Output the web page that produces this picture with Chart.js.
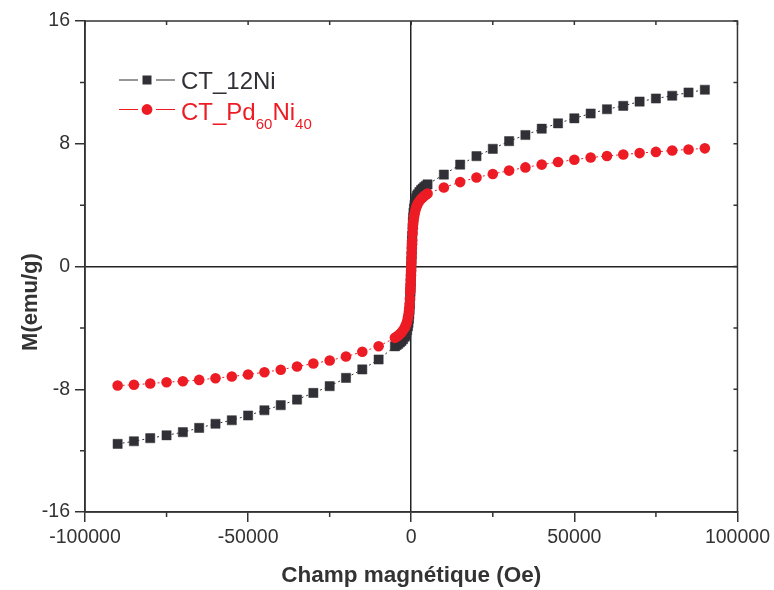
<!DOCTYPE html>
<html>
<head>
<meta charset="utf-8">
<script src="https://cdn.jsdelivr.net/npm/chart.js@4.4.1/dist/chart.umd.min.js"></script>
<style>
  html, body { margin: 0; padding: 0; background: #fff; }
  #wrap { width: 774px; height: 590px; }
</style>
</head>
<body>
<div id="wrap"><canvas id="chart" width="774" height="590"></canvas></div>
<script>
// applied field (Oe), shared by both samples
const fieldOe = [
  -90000, -85000, -80000, -75000, -70000, -65000, -60000, -55000, -50000,
  -45000, -40000, -35000, -30000, -25000, -20000, -15000, -10000,
  -5000, -4500, -4000, -3500, -3000, -2500, -2000, -1750, -1500, -1250,
  -1000, -850, -700, -600, -500, -400, -300, -250, -200, -150, -100, -50,
  0, 50, 100, 150, 200, 250, 300, 400, 500, 600, 700, 850, 1000,
  1250, 1500, 1750, 2000, 2500, 3000, 3500, 4000, 4500, 5000,
  10000, 15000, 20000, 25000, 30000, 35000, 40000, 45000, 50000,
  55000, 60000, 65000, 70000, 75000, 80000, 85000, 90000
];

// magnetisation (emu/g)
const mCT12Ni = [
  -11.56, -11.39, -11.19, -11.0, -10.8, -10.52, -10.25, -10.02, -9.71,
  -9.37, -9.04, -8.67, -8.24, -7.8, -7.26, -6.71, -6.06,
  -5.2, -5.12, -5.04, -4.95, -4.85, -4.73, -4.58, -4.48, -4.35, -4.15,
  -3.9, -3.68, -3.4, -3.12, -2.82, -2.45, -1.95, -1.65, -1.35, -1.02, -0.68, -0.34,
  0, 0.35, 0.7, 1.05, 1.4, 1.7, 2.0, 2.5, 2.9, 3.2, 3.5, 3.78, 4.0,
  4.25, 4.45, 4.6, 4.7, 4.85, 4.98, 5.08, 5.17, 5.26, 5.35,
  5.99, 6.64, 7.19, 7.67, 8.17, 8.57, 8.98, 9.33, 9.66,
  9.97, 10.25, 10.47, 10.75, 10.95, 11.13, 11.34, 11.52
];

const mCTPdNi = [
  -7.76, -7.71, -7.63, -7.54, -7.48, -7.39, -7.28, -7.17, -7.04,
  -6.89, -6.73, -6.52, -6.32, -6.13, -5.87, -5.56, -5.2,
  -4.65, -4.58, -4.5, -4.41, -4.3, -4.16, -4.0, -3.88, -3.75, -3.56,
  -3.32, -3.14, -2.93, -2.72, -2.45, -2.1, -1.66, -1.42, -1.17, -0.88, -0.59, -0.3,
  0, 0.3, 0.6, 0.9, 1.2, 1.45, 1.7, 2.15, 2.5, 2.78, 3.0, 3.22, 3.4,
  3.65, 3.85, 3.98, 4.1, 4.25, 4.4, 4.5, 4.6, 4.68, 4.75,
  5.15, 5.5, 5.8, 6.03, 6.25, 6.46, 6.64, 6.81, 6.96,
  7.1, 7.2, 7.3, 7.39, 7.47, 7.56, 7.63, 7.7
];

const xTickLabels = [-100000, -50000, 0, 50000, 100000];
const yTickLabels = [-16, -8, 0, 8, 16];
const xMinor = [-75000, -25000, 25000, 75000];
const yMinor = [-12, -4, 4, 12];

const BLACK = '#303036';
const RED = '#ed1c24';
const AXIS = '#333';
const FONT = '"Liberation Sans", Arial, Helvetica, sans-serif';

const toPoints = ys => fieldOe.map((x, i) => ({ x: x, y: ys[i] }));

// frame, small ticks, axis titles and the legend (with subscripts)
const decor = {
  id: 'decor',
  afterDraw(chart) {
    const ctx = chart.ctx;
    const a = chart.chartArea;
    const xs = chart.scales.x, ys = chart.scales.y;
    ctx.save();
    ctx.strokeStyle = AXIS;
    ctx.lineWidth = 1.5;
    ctx.strokeRect(a.left, a.top, a.right - a.left, a.bottom - a.top);

    ctx.beginPath();
    xMinor.forEach(v => {
      const px = xs.getPixelForValue(v);
      ctx.moveTo(px, a.bottom); ctx.lineTo(px, a.bottom + 5);
    });
    yMinor.forEach(v => {
      const py = ys.getPixelForValue(v);
      ctx.moveTo(a.left, py); ctx.lineTo(a.left - 5, py);
    });
    // inward ticks on the mirrored axes
    xMinor.concat(xTickLabels).forEach(v => {
      const px = xs.getPixelForValue(v);
      ctx.moveTo(px, a.top); ctx.lineTo(px, a.top + 4);
    });
    yMinor.concat(yTickLabels).forEach(v => {
      const py = ys.getPixelForValue(v);
      ctx.moveTo(a.right, py); ctx.lineTo(a.right - 4, py);
    });
    ctx.stroke();

    // axis titles
    ctx.fillStyle = AXIS;
    ctx.font = 'bold 22.5px ' + FONT;
    ctx.textAlign = 'center';
    ctx.textBaseline = 'alphabetic';
    ctx.fillText('Champ magnétique (Oe)', (a.left + a.right) / 2, 582);
    ctx.save();
    ctx.translate(37, 302);
    ctx.rotate(-Math.PI / 2);
    ctx.font = 'bold 22px ' + FONT;
    ctx.fillText('M(emu/g)', 0, 0);
    ctx.restore();

    // legend
    ctx.textAlign = 'left';
    const rows = [
      { y: 80, base: 88.5, color: BLACK, shape: 'rect',
        parts: [['CT_12Ni', false]] },
      { y: 109.5, base: 119.5, color: RED, shape: 'circle',
        parts: [['CT_Pd', false], ['60', true], ['Ni', false], ['40', true]] }
    ];
    rows.forEach(r => {
      ctx.strokeStyle = r.color;
      ctx.fillStyle = r.color;
      ctx.lineWidth = 1;
      ctx.beginPath();
      ctx.moveTo(119, r.y); ctx.lineTo(138, r.y);
      ctx.moveTo(156, r.y); ctx.lineTo(175, r.y);
      ctx.stroke();
      ctx.beginPath();
      if (r.shape === 'rect') ctx.rect(142.5, r.y - 4.5, 9, 9);
      else ctx.arc(147, r.y, 5.4, 0, Math.PI * 2);
      ctx.fill();
      let tx = 181;
      r.parts.forEach(p => {
        ctx.font = (p[1] ? '15px ' : '24px ') + FONT;
        ctx.fillText(p[0], tx, p[1] ? r.base + 9 : r.base);
        tx += ctx.measureText(p[0]).width;
      });
    });
    ctx.restore();
  }
};

new Chart(document.getElementById('chart'), {
  type: 'scatter',
  data: {
    datasets: [
      {
        label: 'CT_12Ni',
        data: toPoints(mCT12Ni),
        showLine: true,
        order: 2,
        borderColor: BLACK,
        borderWidth: 1,
        borderDash: [2, 3],
        pointStyle: 'rect',
        pointRadius: 6.5,
        pointBackgroundColor: BLACK,
        pointBorderColor: BLACK,
        pointBorderWidth: 0.5
      },
      {
        label: 'CT_Pd60Ni40',
        data: toPoints(mCTPdNi),
        showLine: true,
        order: 1,
        borderColor: RED,
        borderWidth: 1,
        borderDash: [2, 3],
        pointStyle: 'circle',
        pointRadius: 5.3,
        pointBackgroundColor: RED,
        pointBorderColor: RED,
        pointBorderWidth: 0
      }
    ]
  },
  options: {
    responsive: false,
    animation: false,
    devicePixelRatio: 1,
    layout: { padding: { top: 21, right: 35, left: 0, bottom: 0 } },
    plugins: {
      legend: { display: false },
      tooltip: { enabled: false }
    },
    scales: {
      x: {
        type: 'linear',
        min: -100000,
        max: 100000,
        afterFit: s => { s.height = 78; },
        border: { display: true, color: AXIS, width: 1.5 },
        grid: {
          drawOnChartArea: true,
          color: c => (c.tick && c.tick.value === 0) ? '#222' : 'rgba(0,0,0,0)',
          lineWidth: 1.5,
          tickLength: 10,
          tickWidth: 1.5,
          tickColor: c => (c.tick && xTickLabels.includes(c.tick.value)) ? AXIS : 'rgba(0,0,0,0)'
        },
        ticks: {
          stepSize: 50000,
          autoSkip: false,
          maxRotation: 0,
          padding: 4,
          color: AXIS,
          font: { family: FONT, size: 19.5 },
          callback: v => xTickLabels.includes(v) ? String(v) : ''
        }
      },
      y: {
        type: 'linear',
        min: -16,
        max: 16,
        afterFit: s => { s.width = 85; },
        border: { display: true, color: AXIS, width: 1.5 },
        grid: {
          drawOnChartArea: true,
          color: c => (c.tick && c.tick.value === 0) ? '#222' : 'rgba(0,0,0,0)',
          lineWidth: 1.5,
          tickLength: 10,
          tickWidth: 1.5,
          tickColor: c => (c.tick && yTickLabels.includes(c.tick.value)) ? AXIS : 'rgba(0,0,0,0)'
        },
        ticks: {
          stepSize: 8,
          autoSkip: false,
          padding: 5,
          color: AXIS,
          font: { family: FONT, size: 19.5 },
          callback: v => yTickLabels.includes(v) ? String(v) : ''
        }
      }
    }
  },
  plugins: [decor]
});
</script>
</body>
</html>
